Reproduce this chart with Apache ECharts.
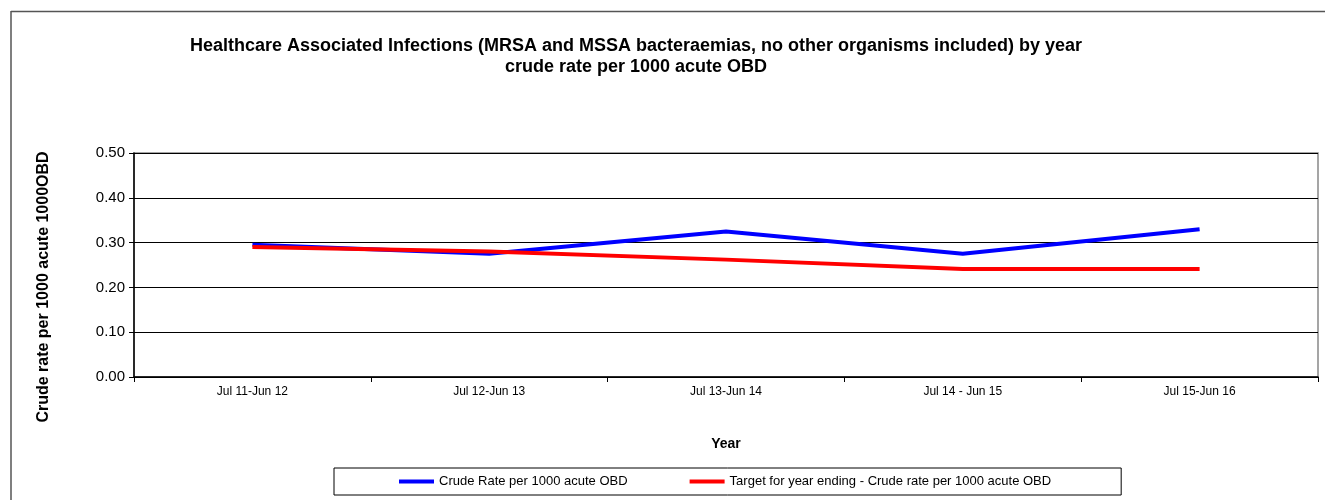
<!DOCTYPE html>
<html>
<head>
<meta charset="utf-8">
<script src="https://cdn.jsdelivr.net/npm/echarts@6/dist/echarts.min.js"></script>
<style>
  html, body { margin: 0; padding: 0; background: #fff; }
  #chart { width: 1325px; height: 500px; }
</style>
</head>
<body>
<div id="chart"></div>
<script>
// 数据：年份类别与两条折线
const years = ['Jul 11-Jun 12', 'Jul 12-Jun 13', 'Jul 13-Jun 14', 'Jul 14 - Jun 15', 'Jul 15-Jun 16']
const crudeRate = [0.295, 0.275, 0.325, 0.275, 0.33]
const targetRate = [0.29, 0.28, 0.262, 0.241, 0.241]
const seriesNames = ['Crude Rate per 1000 acute OBD', 'Target for year ending - Crude rate per 1000 acute OBD']

const font = 'Arial, "Liberation Sans", sans-serif'
const chart = echarts.init(document.getElementById('chart'))

chart.setOption({
  animation: false,
  textStyle: { fontFamily: font, color: '#000' },
  title: {
    text: 'Healthcare Associated Infections (MRSA and MSSA bacteraemias, no other organisms included) by year\ncrude rate per 1000 acute OBD',
    left: 631,
    textAlign: 'center',
    top: 31,
    textStyle: { fontSize: 18, fontWeight: 'bold', lineHeight: 21, fontFamily: font, color: '#000' }
  },
  grid: { left: 134, right: 7, top: 153, bottom: 123, show: true, borderColor: '#888', borderWidth: 1.5 },
  legend: {
    data: seriesNames,
    left: 334,
    top: 468,
    padding: [7, 70, 7, 65],
    itemGap: 62,
    itemWidth: 35,
    itemHeight: 4,
    icon: 'rect',
    borderColor: '#000',
    borderWidth: 1,
    textStyle: { fontSize: 13, fontFamily: font, color: '#000' }
  },
  xAxis: {
    type: 'category',
    data: years,
    name: 'Year',
    nameLocation: 'middle',
    nameGap: 60,
    nameTextStyle: { fontSize: 14, fontWeight: 'bold', color: '#000' },
    axisLine: { lineStyle: { color: '#000', width: 1.5 } },
    axisTick: { show: true, length: 5, lineStyle: { color: '#000' } },
    axisLabel: { fontSize: 12, color: '#000', margin: 9 }
  },
  yAxis: {
    type: 'value',
    min: 0,
    max: 0.5,
    interval: 0.1,
    axisLine: { show: true, lineStyle: { color: '#000', width: 1.5 } },
    axisTick: { show: true, length: 5, lineStyle: { color: '#000' } },
    axisLabel: { fontSize: 15, color: '#000', margin: 9, formatter: v => v.toFixed(2) },
    splitLine: { lineStyle: { color: '#000', width: 1 } }
  },
  graphic: [
    // 外框线
    { type: 'line', shape: { x1: 11, y1: 11.5, x2: 1325, y2: 11.5 }, style: { stroke: '#555', lineWidth: 1.5 } },
    { type: 'line', shape: { x1: 11, y1: 11, x2: 11, y2: 500 }, style: { stroke: '#555', lineWidth: 1.5 } },
    {
      type: 'text',
      x: 44,
      y: 287,
      rotation: Math.PI / 2,
      style: {
        text: 'Crude rate per 1000 acute 1000OBD',
        font: 'bold 16px ' + font,
        fill: '#000',
        align: 'center',
        verticalAlign: 'middle'
      }
    }
  ],
  series: [
    {
      name: seriesNames[0],
      type: 'line',
      data: crudeRate,
      symbol: 'none',
      lineStyle: { color: '#0000ff', width: 4 },
      itemStyle: { color: '#0000ff' }
    },
    {
      name: seriesNames[1],
      type: 'line',
      data: targetRate,
      symbol: 'none',
      lineStyle: { color: '#ff0000', width: 4 },
      itemStyle: { color: '#ff0000' }
    }
  ]
})
</script>
</body>
</html>
